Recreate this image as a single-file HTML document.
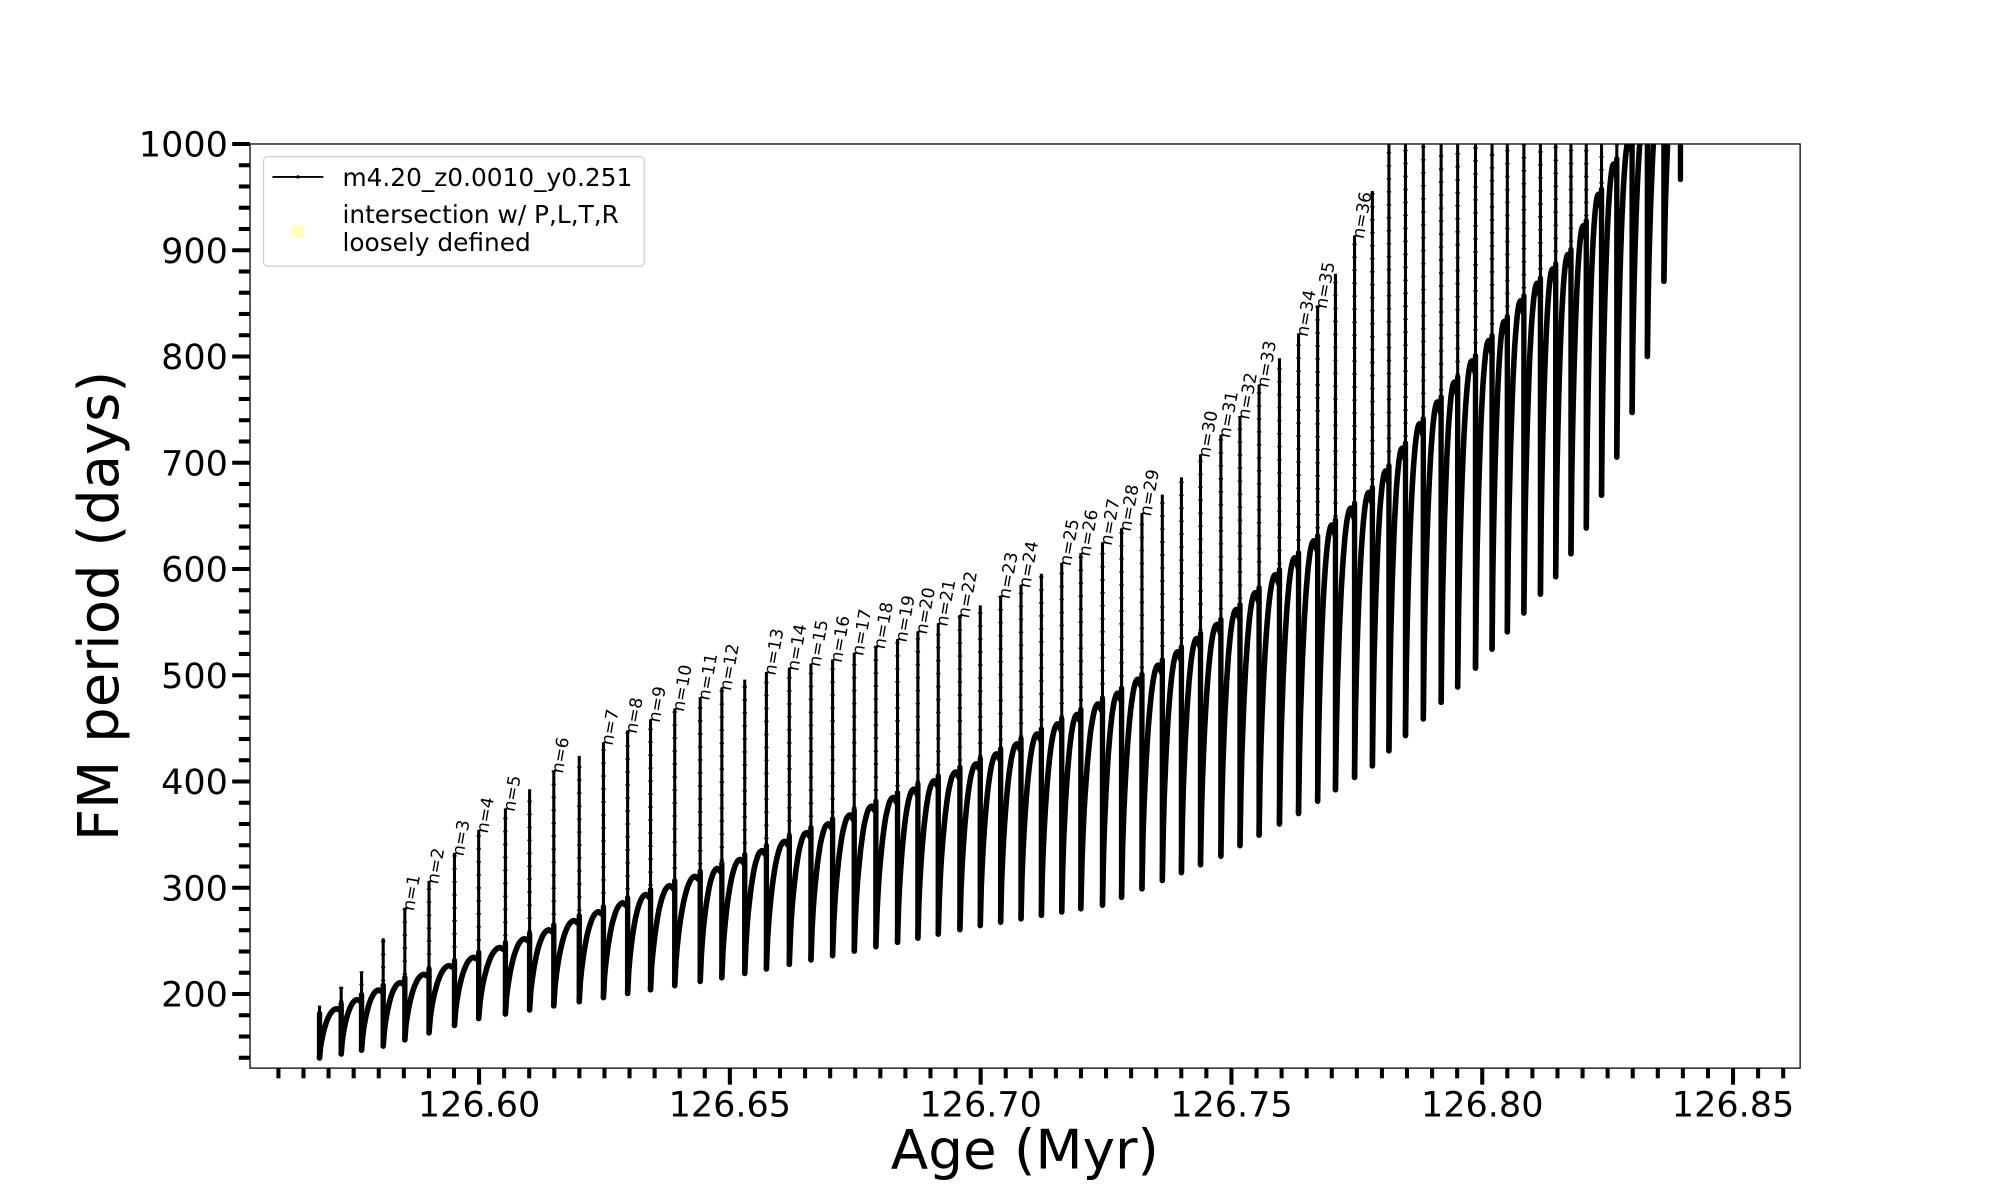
<!DOCTYPE html>
<html><head><meta charset="utf-8">
<style>html,body{margin:0;padding:0;background:#fff;}svg{display:block;}</style>
</head><body>
<svg id="s" xmlns="http://www.w3.org/2000/svg" width="2000" height="1200" viewBox="0 0 1571 942.6" preserveAspectRatio="none" font-family="DejaVu Sans, Liberation Sans, sans-serif">
<rect x="0" y="0" width="1571" height="943" fill="#fff"/>
<defs><clipPath id="c"><rect x="196.4" y="113.1" width="1217.6" height="725.9"/></clipPath></defs>
<g id="data" clip-path="url(#c)"></g>
<g id="labels"></g>
<rect x="196.4" y="113.1" width="1217.6" height="725.9" fill="none" stroke="#000" stroke-width="1"/>
<g id="ticks"></g>
<text x="805" y="918" font-size="43" text-anchor="middle">Age (Myr)</text>
<text transform="translate(92.5,476) rotate(-90)" font-size="44" text-anchor="middle">FM period (days)</text>
<rect x="207" y="123" width="299" height="86" rx="3" fill="#fff" fill-opacity="0.8" stroke="#d0d0d0" stroke-width="1"/>
<line x1="214" y1="139" x2="254" y2="139" stroke="#000" stroke-width="1.5"/>
<circle cx="234" cy="139" r="1.3" fill="#000"/>
<ellipse cx="234" cy="182" rx="5.5" ry="5.5" fill="#ffffb8"/>
<text x="269" y="146" font-size="19.5">m4.20_z0.0010_y0.251</text>
<text x="269" y="175" font-size="19.5">intersection w/ P,L,T,R</text>
<text x="269" y="197" font-size="19.5">loosely defined</text>
</svg>
<script>
(function(){
var NS="http://www.w3.org/2000/svg";
function el(t,a,p,txt){var e=document.createElementNS(NS,t);for(var k in a)e.setAttribute(k,a[k]);if(txt!==undefined)e.textContent=txt;p.appendChild(e);return e;}
function interp(pts,x){if(x<=pts[0][0])return pts[0][1];for(var i=1;i<pts.length;i++){if(x<=pts[i][0]){var a=pts[i-1],b=pts[i];return a[1]+(b[1]-a[1])*(x-a[0])/(b[0]-a[0]);}}var a=pts[pts.length-2],b=pts[pts.length-1];return a[1]+(b[1]-a[1])*(x-a[0])/(b[0]-a[0]);}
var S=[251,268,284,301,318,337,357,376,397,416,435,455,474,493,511,530,550,567,585,602,620,637,654,671,688,705,721,737,754,770,786,802,818,834,849,866,881,897,913,928,943,959,974,989,1005,1020,1035,1049,1064,1078,1091,1104,1118,1132,1145,1159,1172,1184,1197,1210,1222,1234,1246,1258,1270,1282,1294,1307,1320];
var Tp=[[251,790],[268,775],[284,763],[301,737],[318,713],[337,692],[357,670],[376,652],[397,635],[435,605],[474,583],[511,565],[567,540],[602,528],[654,518],[705,502],[754,483],[786,468],[834,442],[866,426],[897,403],[928,375],[943,357],[974,327],[989,302],[1020,262],[1035,240],[1049,215],[1064,185],[1078,150],[1091,0],[1400,0]];
var Lp=[[251,831],[300,822],[376,800],[573,767],[770,727],[866,711],[958,673],[1020,639],[1079,601],[1150,535],[1222,453],[1234,435],[1247,413],[1258,389],[1270,359],[1282,324],[1294,280],[1307,221],[1320,141]];
var Bp=[[251,800],[300,778],[376,752],[573,680],[770,600],[876,548],[967,485],[1080,385],[1120,330],[1166,275],[1202,230],[1236,198],[1268,132],[1300,80],[1330,20]];
var g=document.getElementById('data');
var arc="",thick="",thin="";
for(var i=0;i<S.length;i++){
  var x=S[i],L=interp(Lp,x),T=interp(Tp,x),B=interp(Bp,x);
  thin+="M"+x+" "+L.toFixed(1)+"V"+T.toFixed(1);
  thick+="M"+x+" "+L.toFixed(1)+"V"+(B-4).toFixed(1);
  if(i<S.length-1){
    var xe=S[i+1],Be=interp(Bp,xe);
    arc+="M"+x+" "+L.toFixed(1);
    for(var k=1;k<=20;k++){var t=k/20;var f;
      if(t<0.8){var u=t/0.8;f=Math.pow(1-Math.pow(1-u,2),0.7);} else {f=1-0.04*(t-0.8)/0.2;}
      var xx=x+(xe-x)*t;var yy=L+(Be-L)*f;arc+="L"+xx.toFixed(1)+" "+yy.toFixed(1);}
  }
}
el('path',{d:thin,stroke:'#000','stroke-width':2.4,fill:'none'},g);
el('path',{d:thin,stroke:'#000','stroke-width':3.4,fill:'none','stroke-dasharray':'1.2 9'},g);
el('path',{d:thick,stroke:'#000','stroke-width':4.2,fill:'none','stroke-linecap':'round'},g);
el('path',{d:arc,stroke:'#000','stroke-width':4.4,fill:'none','stroke-linejoin':'round','stroke-linecap':'round'},g);
var lab=[318,337,357,376,397,435,474,493,511,530,550,567,602,620,637,654,671,688,705,721,737,754,786,802,834,849,866,881,897,943,959,974,989,1020,1035,1064];
var lg=document.getElementById('labels');
for(var n=0;n<lab.length;n++){var x=lab[n],T=interp(Tp,x);
  el('text',{transform:'translate('+(x+7)+','+(T+3)+') rotate(-80)','font-size':13.5},lg,'n='+(n+1));}
var tg=document.getElementById('ticks');
function Y(v){return 113.1+(1000-v)*0.8346;}
for(var v=140;v<=1000;v+=20){var y=Y(v);var maj=(v%100===0);
  el('line',{x1:196.4-(maj?14:8.8),x2:196.4,y1:y,y2:y,stroke:'#000','stroke-width':3.2},tg);
  if(maj)el('text',{x:179,y:y+10,'font-size':27.5,'text-anchor':'end'},tg,String(v));}
function X(a){return 376.3+(a-126.60)/0.05*197.0;}
for(var j=0;j<=60;j++){var a=126.56+j*0.005;var x=X(a);if(x<196||x>1414)continue;var maj=(j%10===8);
  el('line',{x1:x,x2:x,y1:839,y2:839+(maj?13:8),stroke:'#000','stroke-width':3.2},tg);
  if(maj)el('text',{x:x,y:877,'font-size':27.5,'text-anchor':'middle'},tg,a.toFixed(2));}
})();
</script>
</body></html>
